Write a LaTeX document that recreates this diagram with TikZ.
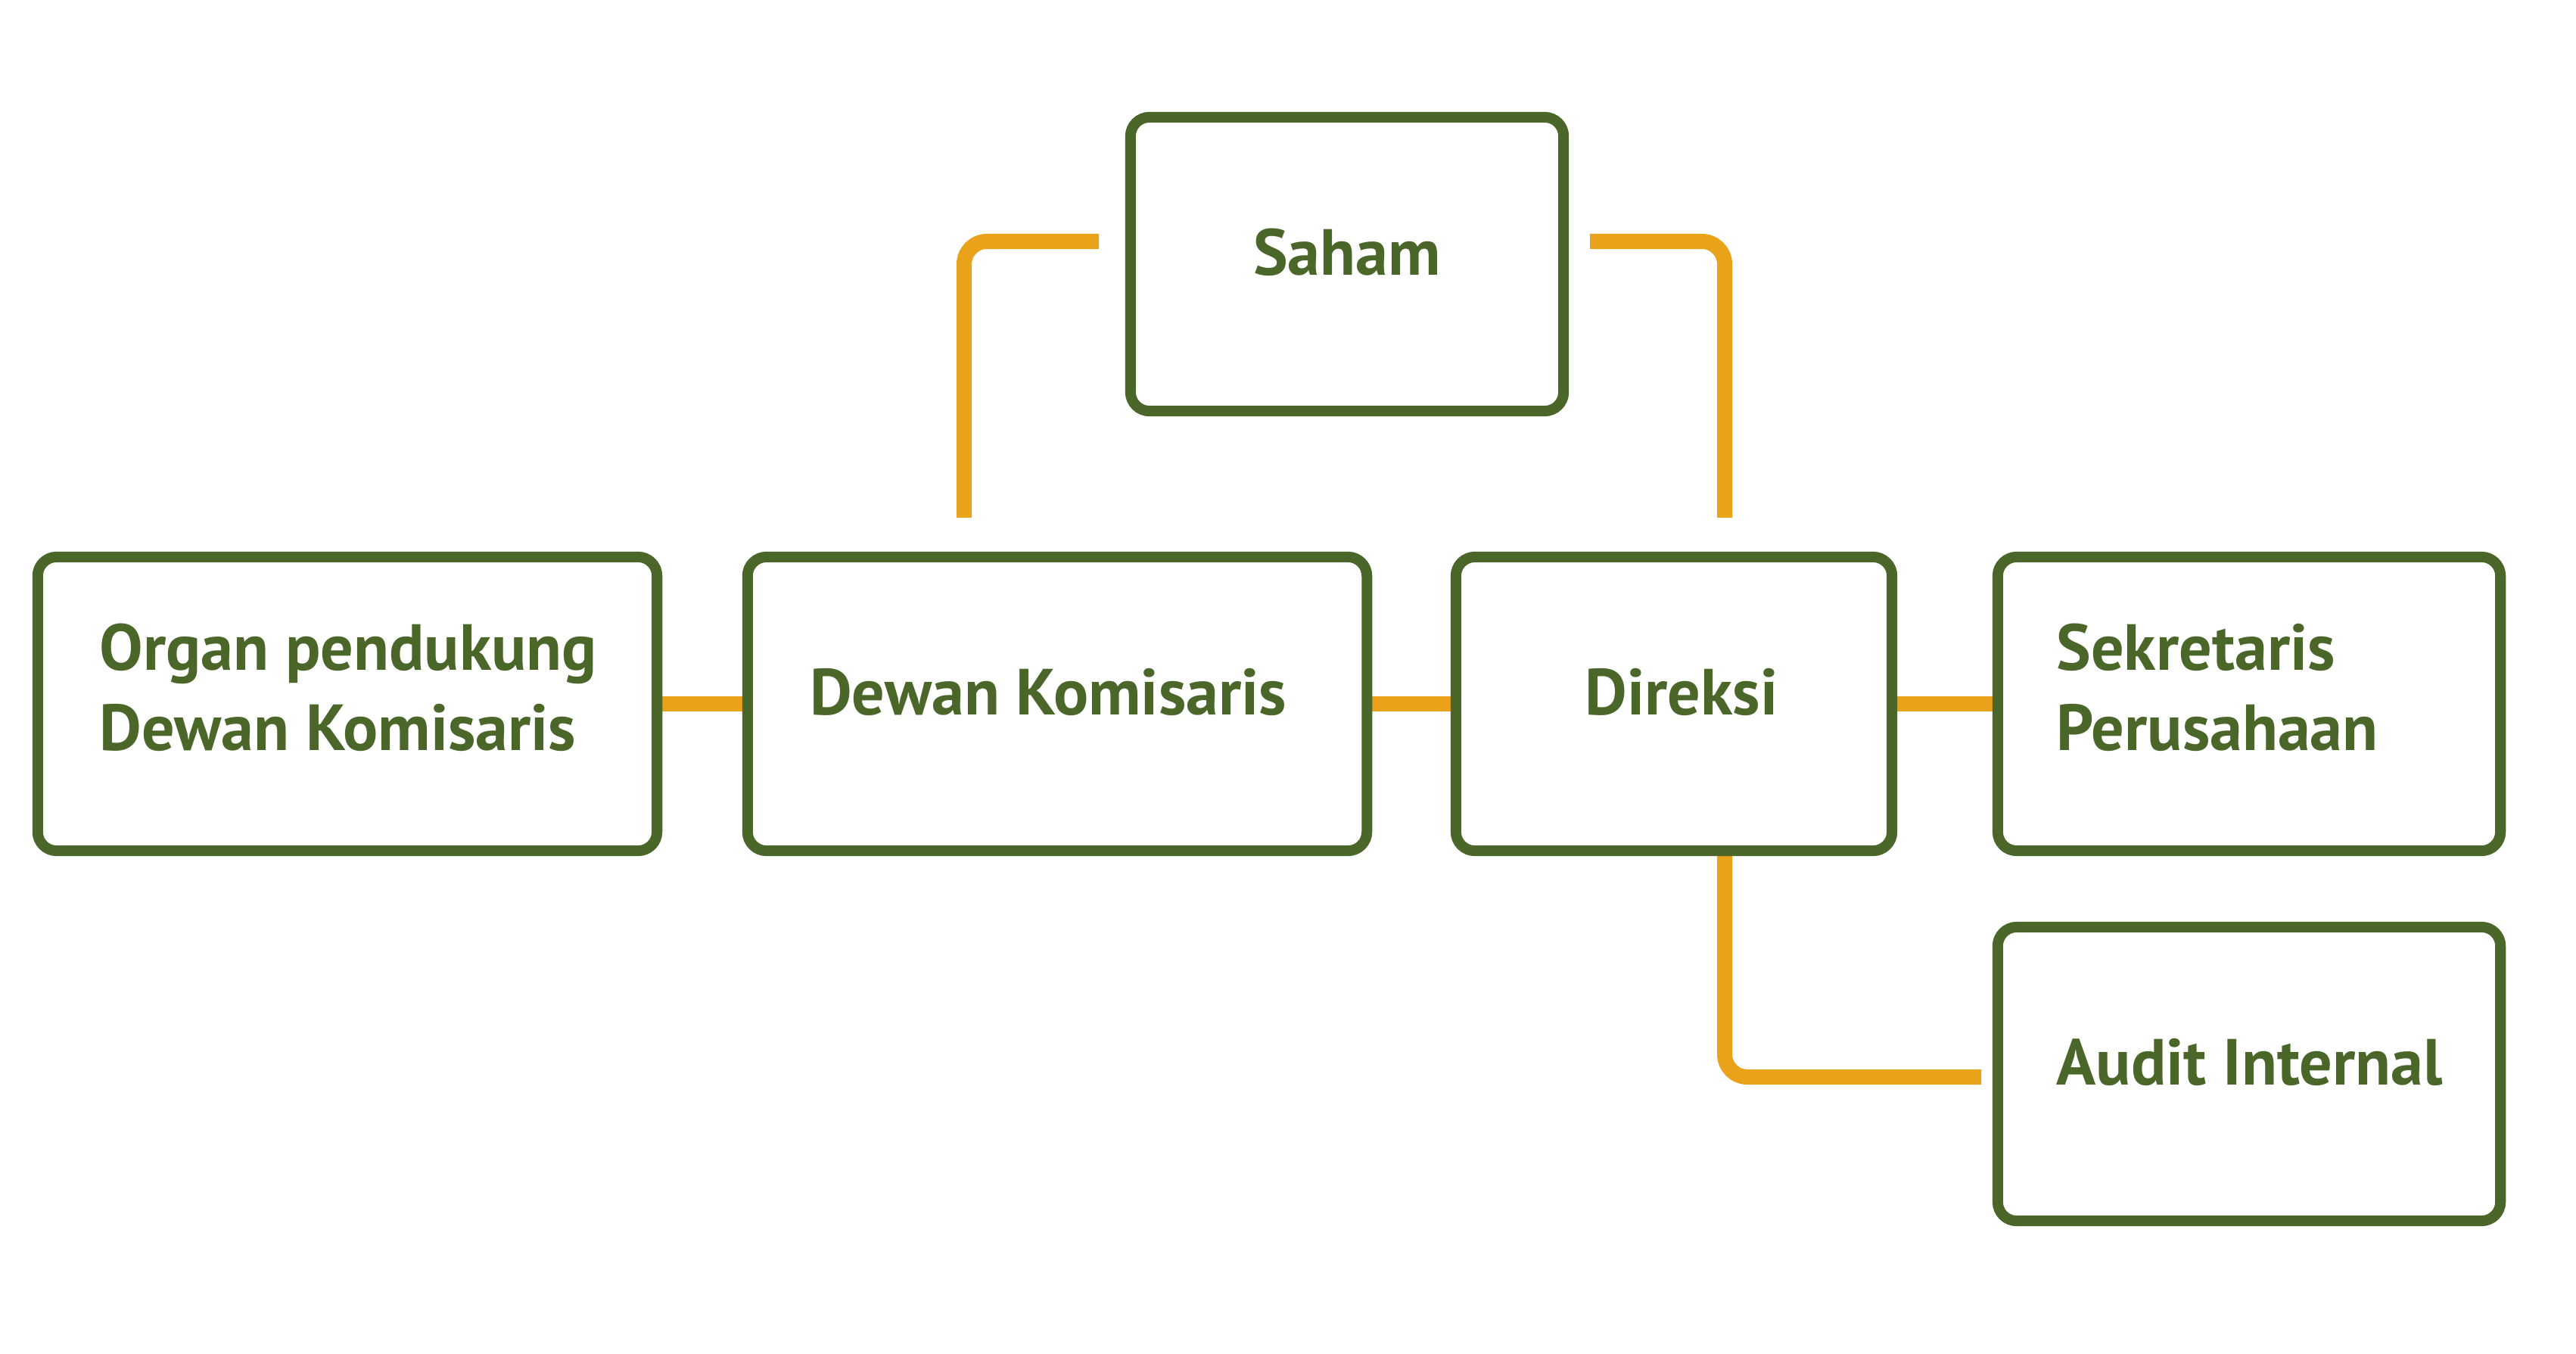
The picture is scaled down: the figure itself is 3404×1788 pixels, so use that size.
\documentclass[tikz,border=0pt]{standalone}
\usepackage{fontspec}
\setmainfont{PT Sans}
\usetikzlibrary{calc}
\definecolor{grn}{HTML}{4A6629}
\definecolor{org}{HTML}{E9A21A}
\pgfdeclarelayer{back}
\pgfdeclarelayer{bg}
\pgfsetlayers{back,bg,main}
\begin{document}
\begin{tikzpicture}[x=0.01cm,y=-0.01cm,
  box/.style={draw=grn, line width=0.14cm, rounded corners=0.25cm, fill=white,
    minimum height=3.88cm, inner sep=0pt, outer sep=0pt},
  lbl/.style={text=grn, font=\fontsize{24.5pt}{30.2pt}\selectfont\bfseries, inner sep=0pt, align=left},
  conn/.style={draw=org, line width=0.2cm, rounded corners=0.3cm}]
\begin{pgfonlayer}{back}
\fill[white] (0,0) rectangle (3404,1788);
\end{pgfonlayer}
\useasboundingbox (0,0) rectangle (3404,1788);
% boxes
\node[box, minimum width=5.72cm] (saham) at (1780,349) {};
\node[box, minimum width=8.18cm] (organ) at (459,930) {};
\node[box, minimum width=8.18cm] (dewan) at (1397,930) {};
\node[box, minimum width=5.76cm] (direksi) at (2212,930) {};
\node[box, minimum width=6.64cm] (sek) at (2972,930) {};
\node[box, minimum width=6.64cm] (audit) at (2972,1419) {};
% labels
\node[lbl, anchor=base] (tsaham) at ($(saham.north)+(0,209)$) {Saham};
\node[lbl, anchor=base] (tdewan) at ($(dewan.north)+(-12,209)$) {Dewan Komisaris};
\node[lbl, anchor=base] (tdireksi) at ($(direksi.north)+(10,209)$) {Direksi};
\node[lbl, anchor=base west] (taudit) at ($(audit.north west)+(77,209)$) {Audit Internal};
\node[lbl, anchor=base west] (torgan) at ($(organ.north west)+(81,256)$) {Organ pendukung\\Dewan Komisaris};
\node[lbl, anchor=base west] (tsek) at ($(sek.north west)+(77,256)$) {Sekretaris\\Perusahaan};
% free ends of connectors
\coordinate (la) at (1274,684);
\coordinate (lb) at (1452,319);
\coordinate (ra) at (2101,319);
\coordinate (rb) at (2279,684);
\coordinate (da) at (2279,1124);
\coordinate (db) at (2618,1423);
\begin{pgfonlayer}{bg}
\draw[conn] (organ.east) -- (dewan.west);
\draw[conn] (dewan.east) -- (direksi.west);
\draw[conn] (direksi.east) -- (sek.west);
\draw[conn] (la) |- (lb);
\draw[conn] (ra) -| (rb);
\draw[conn] (da) |- (db);
\end{pgfonlayer}
\end{tikzpicture}
\end{document}
